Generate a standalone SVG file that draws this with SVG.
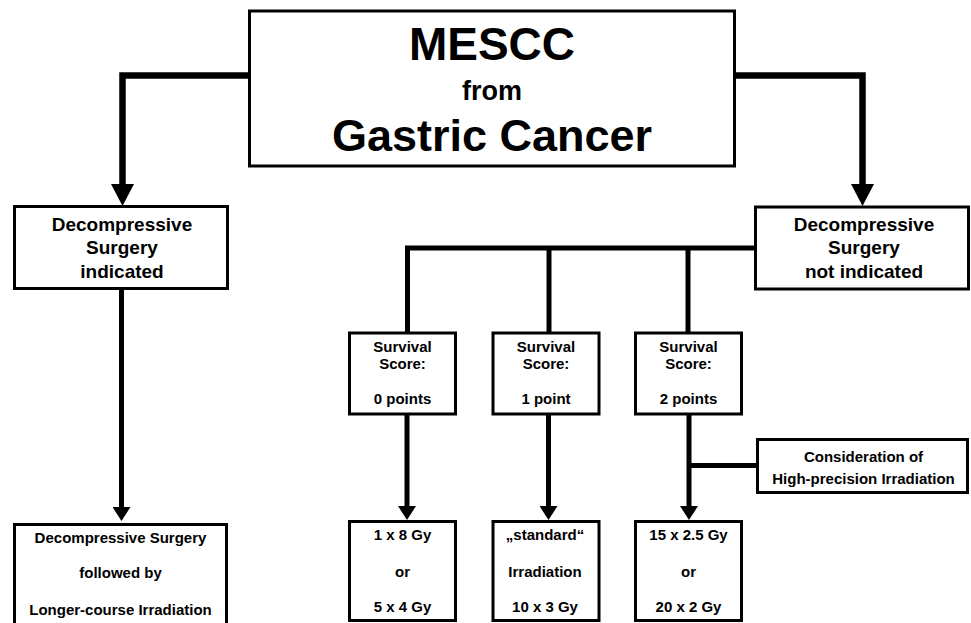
<svg xmlns="http://www.w3.org/2000/svg" width="971" height="623" viewBox="0 0 971 623">
<style>
.box{fill:#fff;stroke:#000;stroke-width:3}
.t{font-family:"Liberation Sans",Arial,sans-serif;font-weight:bold;fill:#000;text-anchor:middle}
.s15{font-size:15px}
.s19{font-size:19px}
.big{stroke:#000;stroke-width:6.5;fill:none;stroke-linejoin:miter}
.thin{stroke:#000;stroke-width:5;fill:none;stroke-linejoin:miter}
</style>
<defs>
<marker id="ahBig" markerUnits="userSpaceOnUse" markerWidth="22" markerHeight="23" refX="4" refY="11.5" orient="auto">
<path d="M0,0 L22,11.5 L0,23 Z" fill="#000"/>
</marker>
<marker id="ahSmall" markerUnits="userSpaceOnUse" markerWidth="14" markerHeight="18" refX="3" refY="9" orient="auto">
<path d="M0,0 L14,9 L0,18 Z" fill="#000"/>
</marker>
</defs>
<rect width="971" height="623" fill="#fff"/>
<g id="connectors">
<path class="big" d="M249,75.5 H122.5 V188" marker-end="url(#ahBig)"/>
<path class="big" d="M736,75.5 H862.5 V188" marker-end="url(#ahBig)"/>
<path class="thin" d="M121.5,290 V510" marker-end="url(#ahSmall)"/>
<path class="thin" d="M755,248 H407.5 V333"/>
<path class="thin" d="M549,248 V333"/>
<path class="thin" d="M688,248 V333"/>
<path class="thin" d="M407,415 V509" marker-end="url(#ahSmall)"/>
<path class="thin" d="M548.5,415 V509" marker-end="url(#ahSmall)"/>
<path class="thin" d="M689,415 V509" marker-end="url(#ahSmall)"/>
<path class="thin" d="M757,465.5 H689"/>
</g>
<g id="top">
<rect class="box" x="249.5" y="11" width="485" height="155"/>
<text class="t" x="492" y="60" font-size="46">MESCC</text>
<text class="t" x="492" y="100" font-size="27">from</text>
<text class="t" x="492" y="151" font-size="45">Gastric Cancer</text>
</g>
<g id="surgery-indicated">
<rect class="box" x="14.5" y="206.5" width="213" height="82"/>
<text class="t s19" x="122" y="230.5">Decompressive</text>
<text class="t s19" x="122" y="253.5">Surgery</text>
<text class="t s19" x="122" y="277.5">indicated</text>
</g>
<g id="surgery-not-indicated">
<rect class="box" x="755.5" y="207" width="213" height="82"/>
<text class="t s19" x="864" y="230.5">Decompressive</text>
<text class="t s19" x="864" y="253.5">Surgery</text>
<text class="t s19" x="864" y="277.5">not indicated</text>
</g>
<g id="score0">
<rect class="box" x="349.5" y="333" width="106" height="81"/>
<text class="t s15" x="402.5" y="352">Survival</text>
<text class="t s15" x="402.5" y="368.5">Score:</text>
<text class="t s15" x="402.5" y="404">0 points</text>
</g>
<g id="score1">
<rect class="box" x="493" y="333" width="106" height="81"/>
<text class="t s15" x="546" y="352">Survival</text>
<text class="t s15" x="546" y="368.5">Score:</text>
<text class="t s15" x="546" y="404">1 point</text>
</g>
<g id="score2">
<rect class="box" x="635.5" y="333" width="106" height="81"/>
<text class="t s15" x="688.5" y="352">Survival</text>
<text class="t s15" x="688.5" y="368.5">Score:</text>
<text class="t s15" x="688.5" y="404">2 points</text>
</g>
<g id="high-precision">
<rect class="box" x="757.5" y="439.5" width="210" height="53"/>
<text class="t s15" x="863.5" y="461.5">Consideration of</text>
<text class="t s15" x="863.5" y="484">High-precision Irradiation</text>
</g>
<g id="surgery-irradiation">
<rect class="box" x="14.5" y="524.5" width="212" height="110"/>
<text class="t s15" x="120.5" y="542.5">Decompressive Surgery</text>
<text class="t s15" x="120.5" y="578">followed by</text>
<text class="t s15" x="120.5" y="615">Longer-course Irradiation</text>
</g>
<g id="dose0">
<rect class="box" x="349.5" y="521.5" width="106" height="99"/>
<text class="t s15" x="402.5" y="540">1 x 8 Gy</text>
<text class="t s15" x="402.5" y="577">or</text>
<text class="t s15" x="402.5" y="612">5 x 4 Gy</text>
</g>
<g id="dose1">
<rect class="box" x="493" y="521.5" width="106" height="99"/>
<text class="t s15" x="545" y="540">„standard“</text>
<text class="t s15" x="545" y="577">Irradiation</text>
<text class="t s15" x="545" y="612">10 x 3 Gy</text>
</g>
<g id="dose2">
<rect class="box" x="635.5" y="521.5" width="106" height="99"/>
<text class="t s15" x="688.5" y="540">15 x 2.5 Gy</text>
<text class="t s15" x="688.5" y="577">or</text>
<text class="t s15" x="688.5" y="612">20 x 2 Gy</text>
</g>
</svg>
